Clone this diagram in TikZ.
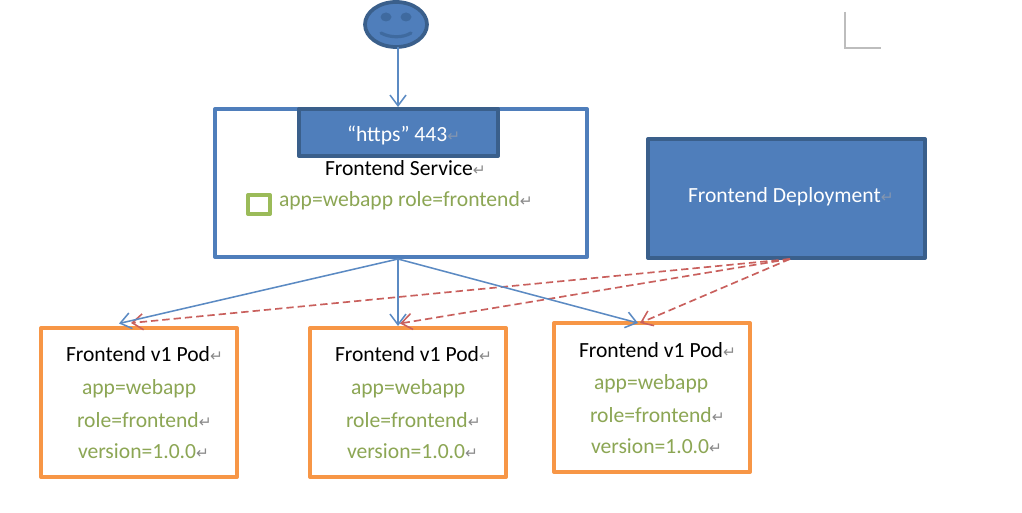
\documentclass[tikz,border=0pt]{standalone}
\usepackage{fontspec}
\setmainfont{Carlito}
\newfontfamily\symfont{DejaVu Sans}
\usetikzlibrary{arrows.meta,shapes.geometric}
\definecolor{fillblue}{HTML}{4F7EBB}
\definecolor{edgeblue}{HTML}{3A5F8B}
\definecolor{eyeblue}{HTML}{3F6A9F}
\definecolor{lineblue}{HTML}{5B8AC3}
\definecolor{podorange}{HTML}{F79646}
\definecolor{labelgreen}{HTML}{8CA654}
\definecolor{boxgreen}{HTML}{9BBB59}
\definecolor{dashred}{HTML}{C9605D}
\definecolor{markgray}{HTML}{8A8A8A}
\definecolor{markfaint}{HTML}{8496B0}
\definecolor{cornergray}{HTML}{BDBDBD}
\newcommand{\rtn}{{\color{markgray}\symfont\fontsize{11.5}{12}\selectfont ↵}}
\newcommand{\rtnfaint}{{\color{markfaint}\symfont\fontsize{11.5}{12}\selectfont ↵}}
\tikzset{
  x=0.75pt,y=-0.75pt,
  rect/.style 2 args={rectangle,inner sep=0pt,outer sep=0pt,minimum width=#1*0.75pt,minimum height=#2*0.75pt,line join=round},
  service/.style={draw=fillblue,line width=3pt,fill=white},
  blue box/.style={draw=edgeblue,line width=3pt,fill=fillblue},
  pod/.style={draw=podorange,line width=3pt,fill=white},
  txt/.style={anchor=base west,inner sep=0pt,outer sep=0pt,font=\fontsize{16.2}{19}\selectfont},
  black txt/.style={txt,text=black},
  white txt/.style={txt,text=white},
  green txt/.style={txt,text=labelgreen},
  flow/.style={draw=lineblue,line width=1.15pt,-{Straight Barb[length=8pt,width=12pt,line width=1.15pt]}},
  manage/.style={draw=dashred,line width=1.25pt,dash pattern=on 5.5pt off 3pt,-{Straight Barb[length=8pt,width=12pt,line width=1.15pt]}},
}
\begin{document}
\begin{tikzpicture}
\useasboundingbox (0,0) rectangle (1022,513);
\fill[white] (0,0) rectangle (1022,513);
% corner mark
\coordinate (c1) at (845,12); \coordinate (c2) at (845,48); \coordinate (c3) at (881,48);
\draw[cornergray,line width=1pt] (c1) -- (c2) -- (c3);
% boxes
\node[rect={372}{148},service] (svc) at (401,183) {};
\node[rect={199}{47},blue box] (https) at (398.5,132.5) {};
\node[rect={277}{119},blue box] (dep) at (786.5,198.5) {};
\node[rect={196}{149},pod] (pod1) at (139,402.5) {};
\node[rect={196}{149},pod] (pod2) at (408,402.5) {};
\node[rect={196}{149},pod] (pod3) at (652,397.5) {};
% smiley
\node[ellipse,draw=edgeblue,line width=2.8pt,fill=fillblue,minimum width=62*0.75pt,minimum height=45*0.75pt,inner sep=0pt,outer sep=0pt] (face) at (396,24.5) {};
\node[ellipse,fill=eyeblue,minimum width=11*0.75pt,minimum height=9*0.75pt,inner sep=0pt] (eyeL) at (386,17) {};
\node[ellipse,fill=eyeblue,minimum width=11*0.75pt,minimum height=9*0.75pt,inner sep=0pt] (eyeR) at (406,17) {};
\draw[eyeblue,line width=2.4pt,line cap=round] (381,33) .. controls (390,38) and (403,38) .. (411,33);
% green square
\node[rect={22}{19},draw=boxgreen,line width=3pt,fill=white] (sel) at (259,204.5) {};
% labels
\node[white txt] (t1) at (347,142) {“https” 443\rtnfaint};
\node[black txt] (t2) at (325,176) {Frontend Service\rtn};
\node[green txt] (t3) at (279,207) {app=webapp role=frontend\rtn};
\node[white txt] (t4) at (688,203) {Frontend Deployment\rtnfaint};
\node[black txt] (p1a) at (66,362) {Frontend v1 Pod\rtn};
\node[green txt] (p1b) at (82,395) {app=webapp};
\node[green txt] (p1c) at (77,428) {role=frontend\rtn};
\node[green txt] (p1d) at (78,459) {version=1.0.0\rtn};
\node[black txt] (p2a) at (335,362) {Frontend v1 Pod\rtn};
\node[green txt] (p2b) at (351,395) {app=webapp};
\node[green txt] (p2c) at (346,428) {role=frontend\rtn};
\node[green txt] (p2d) at (347,459) {version=1.0.0\rtn};
\node[black txt] (p3a) at (579,358) {Frontend v1 Pod\rtn};
\node[green txt] (p3b) at (594,390) {app=webapp};
\node[green txt] (p3c) at (590,423) {role=frontend\rtn};
\node[green txt] (p3d) at (591,454) {version=1.0.0\rtn};
% connector ends
\coordinate (svcout) at (398,259);
\coordinate (depout) at (790,259);
\coordinate (inB1) at (119,323.5);
\coordinate (inB2) at (398,326);
\coordinate (inB3) at (638,323);
\coordinate (inR1) at (131,323);
\coordinate (inR2) at (400,323.5);
\coordinate (inR3) at (640,323);
\coordinate (inSvc) at (398,107);
% connectors
\draw[manage] (depout) -- (inR1);
\draw[manage] (depout) -- (inR2);
\draw[manage] (depout) -- (inR3);
\draw[flow] (face.south -| inSvc) -- (inSvc);
\draw[flow] (svcout) -- (inB1);
\draw[flow] (svcout) -- (inB2);
\draw[flow] (svcout) -- (inB3);
\end{tikzpicture}
\end{document}
